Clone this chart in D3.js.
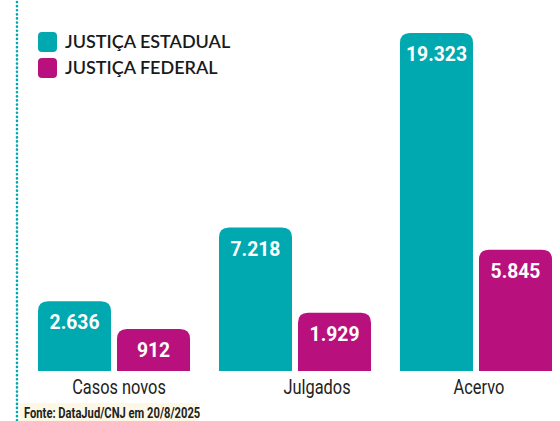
<!DOCTYPE html>
<html>
<head>
<meta charset="utf-8">
<script src="https://cdn.jsdelivr.net/npm/d3@7"></script>
<style>
  body { margin: 0; background: #fff; }
</style>
</head>
<body>
<div id="chart"></div>
<script>
// Dados
const categorias = ["Casos novos", "Julgados", "Acervo"];
const series = ["JUSTIÇA ESTADUAL", "JUSTIÇA FEDERAL"];
const estadual = [2636, 7218, 19323];
const federal = [912, 1929, 5845];
const fonte = "Fonte: DataJud/CNJ em 20/8/2025";

const cores = { "JUSTIÇA ESTADUAL": "#00a8b0", "JUSTIÇA FEDERAL": "#b8107c" };
const width = 560, height = 421;
const base = 371;

const svg = d3.select("#chart").append("svg")
    .attr("width", width)
    .attr("height", height);

// linha pontilhada à esquerda
svg.append("line")
    .attr("x1", 17).attr("x2", 17)
    .attr("y1", 2).attr("y2", height)
    .attr("stroke", "#00a8b0")
    .attr("stroke-width", 2.6)
    .attr("stroke-linecap", "round")
    .attr("stroke-dasharray", "0.1 4");

const x0 = d3.scaleBand().domain(categorias).range([38, 552]).paddingInner(0.16);
const x1 = d3.scaleBand().domain(series).range([0, x0.bandwidth()]).paddingInner(0.076);
const y = d3.scaleLinear().domain([-1700, 19323]).range([base, 33]);

const dados = [];
categorias.forEach((c, i) => {
    dados.push({ cat: c, serie: series[0], valor: estadual[i] });
    dados.push({ cat: c, serie: series[1], valor: federal[i] });
});

function barraArredondada(x, top, w, bottom, r) {
    return `M${x},${bottom}V${top + r}Q${x},${top} ${x + r},${top}H${x + w - r}Q${x + w},${top} ${x + w},${top + r}V${bottom}Z`;
}

const fmt = v => d3.format(",")(v).replace(/,/g, ".");

svg.selectAll("path.barra")
    .data(dados)
    .enter()
    .append("path")
    .attr("class", "barra")
    .attr("d", d => barraArredondada(x0(d.cat) + x1(d.serie), y(d.valor), x1.bandwidth(), base, 10))
    .attr("fill", d => cores[d.serie]);

svg.selectAll("text.valor")
    .data(dados)
    .enter()
    .append("text")
    .attr("class", "valor")
    .attr("transform", d => `translate(${x0(d.cat) + x1(d.serie) + x1.bandwidth() / 2},${y(d.valor) + 28}) scale(0.92,1)`)
    .attr("text-anchor", "middle")
    .attr("fill", "#fff")
    .style("font-family", "Roboto, sans-serif")
    .style("font-weight", "bold")
    .style("font-size", "21px")
    .text(d => fmt(d.valor));

// rótulos das categorias (deslocados como no original)
const deslocamento = [5, 22, 3];
svg.selectAll("text.cat")
    .data(categorias)
    .enter()
    .append("text")
    .attr("class", "cat")
    .attr("transform", (d, i) => `translate(${x0(d) + x0.bandwidth() / 2 + deslocamento[i]},394) scale(0.78,1)`)
    .attr("text-anchor", "middle")
    .attr("fill", "#222")
    .style("font-family", "Roboto, sans-serif")
    .style("font-size", "21px")
    .text(d => d);

// legenda
const leg = svg.selectAll("g.leg")
    .data(series)
    .enter()
    .append("g")
    .attr("class", "leg")
    .attr("transform", (d, i) => `translate(38, ${32 + i * 26})`);

leg.append("rect")
    .attr("width", 19).attr("height", 20)
    .attr("rx", 4)
    .attr("fill", d => cores[d]);

leg.append("text")
    .attr("x", 27)
    .attr("y", 16)
    .attr("fill", "#1a1a1a")
    .style("font-family", "Lato, 'Open Sans', sans-serif")
    .style("font-weight", "600")
    .style("font-size", "18px")
    .text(d => d);

// fonte
svg.append("rect")
    .attr("x", 20).attr("y", 403)
    .attr("width", 178).attr("height", 18)
    .attr("fill", "#fdf8e6");

svg.append("text")
    .attr("transform", "translate(24,418) scale(0.8,1)")
    .attr("fill", "#222")
    .style("font-family", "Roboto, sans-serif")
    .style("font-weight", "bold")
    .style("font-size", "14px")
    .text(fonte);
</script>
</body>
</html>
